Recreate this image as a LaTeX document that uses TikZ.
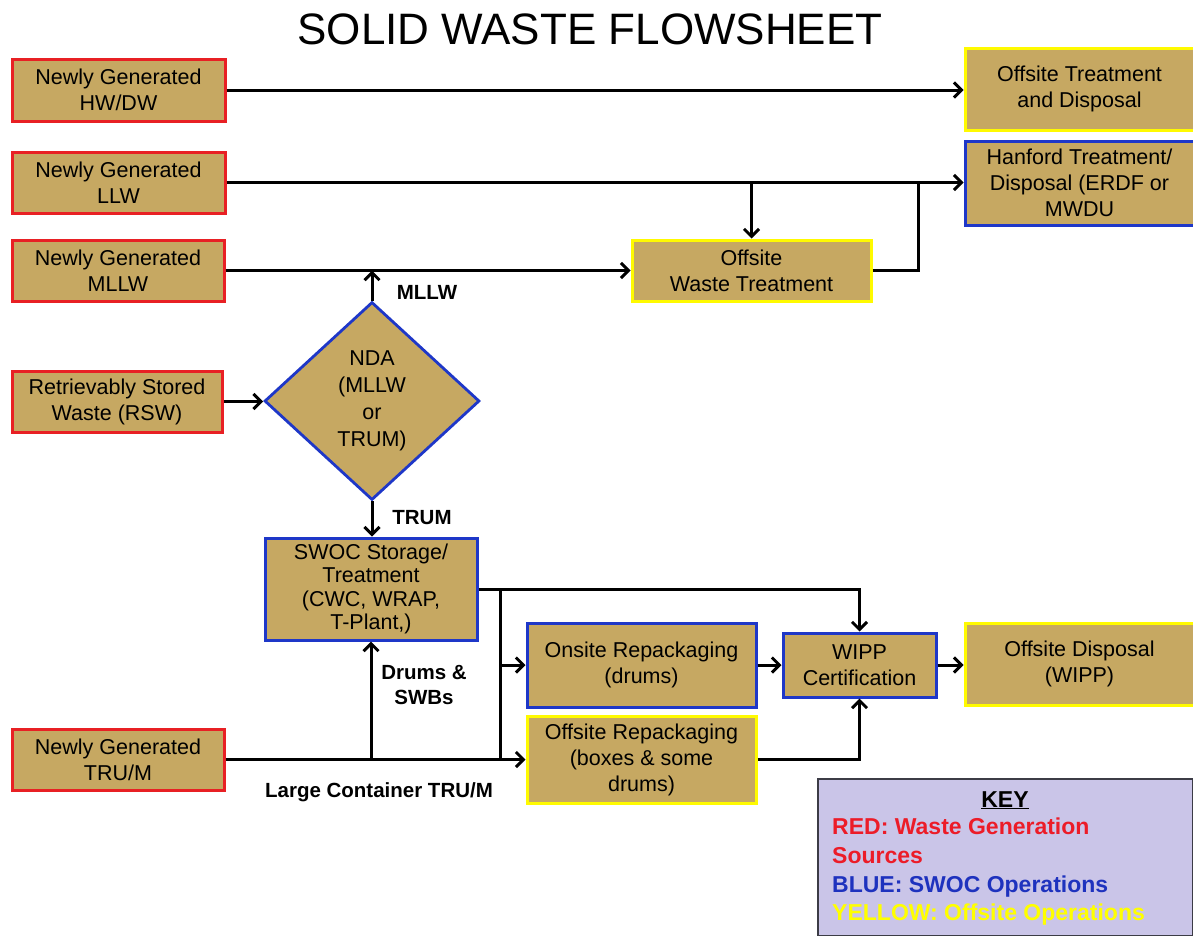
\documentclass[tikz,border=0pt]{standalone}
\usepackage{fontspec}
\setmainfont{Liberation Sans}
\usetikzlibrary{arrows.meta,shapes.geometric}
\definecolor{boxfill}{RGB}{198,168,98}
\definecolor{srcred}{RGB}{232,32,36}
\definecolor{opblue}{RGB}{30,55,200}
\definecolor{offyellow}{RGB}{255,250,0}
\definecolor{keyfill}{RGB}{202,197,232}
\definecolor{keyborder}{RGB}{60,60,70}
\definecolor{keyred}{RGB}{236,28,40}
\definecolor{keyblue}{RGB}{30,50,190}
\definecolor{keyyellow}{RGB}{255,255,0}
\tikzset{
  box/.style={rectangle, fill=boxfill, line width=3pt, inner sep=0pt, align=center,
    font=\fontsize{21.5}{26}\selectfont},
  srcbox/.style={box, draw=srcred},
  opbox/.style={box, draw=opblue},
  offbox/.style={box, draw=offyellow},
  flow/.style={line width=3pt, -{Straight Barb[length=7.5pt,width=15pt]}},
  plainline/.style={line width=3pt},
  lbl/.style={font=\fontsize{20.5}{25}\selectfont\bfseries, align=center, inner sep=0pt},
  keytext/.style={font=\fontsize{23}{28}\selectfont\bfseries, inner sep=0pt, anchor=base west},
}
\begin{document}
\begin{tikzpicture}[x=1pt,y=-1pt]
\useasboundingbox (0,0) rectangle (1193,935);
\fill[white] (0,0) rectangle (1193,935);

\node[font=\fontsize{44}{50}\selectfont, inner sep=0pt] (title) at (590,29) {SOLID WASTE FLOWSHEET};

% sources
\node[srcbox, minimum width=213pt, minimum height=62pt] (hw) at (118.5,90) {Newly Generated\\HW/DW};
\node[srcbox, minimum width=213pt, minimum height=61pt] (llw) at (118.5,182.5) {Newly Generated\\LLW};
\node[srcbox, minimum width=212pt, minimum height=61pt] (mllw) at (118,270.5) {Newly Generated\\MLLW};
\node[srcbox, minimum width=210pt, minimum height=61pt] (rsw) at (117,401.5) {Retrievably Stored\\Waste (RSW)};
\node[srcbox, minimum width=212pt, minimum height=61pt] (tru) at (118,759.5) {Newly Generated\\TRU/M};

% destinations / operations
\node[offbox, minimum width=229pt, minimum height=82pt] (otd) at (1079.5,89) {Offsite Treatment\\and Disposal};
\node[opbox, minimum width=229pt, minimum height=84pt] (hanford) at (1079.5,183) {Hanford Treatment/\\Disposal (ERDF or\\MWDU};
\node[offbox, minimum width=239pt, minimum height=61pt] (owt) at (751.5,270.5) {Offsite\\Waste Treatment};
\node[diamond, draw=opblue, fill=boxfill, line width=2.8pt, minimum width=215pt, minimum height=198pt,
  aspect=1.086, inner sep=0pt, align=center, font=\fontsize{21.5}{27}\selectfont] (nda) at (372,401) {NDA\\(MLLW\\or\\TRUM)};
\node[opbox, minimum width=212pt, minimum height=102pt, font=\fontsize{21.5}{23.5}\selectfont] (swoc) at (371,589) {SWOC Storage/\\Treatment\\(CWC, WRAP,\\T-Plant,)};
\node[opbox, minimum width=229pt, minimum height=84pt] (onsite) at (641.5,665) {Onsite Repackaging\\(drums)};
\node[offbox, minimum width=229pt, minimum height=87pt] (offrep) at (641.5,759.5) {Offsite Repackaging\\(boxes \& some\\drums)};
\node[opbox, minimum width=153pt, minimum height=64pt] (wipp) at (859.5,665) {WIPP\\Certification};
\node[offbox, minimum width=229pt, minimum height=82pt] (odisp) at (1079.5,664) {Offsite Disposal\\(WIPP)};

% connectors
\draw[flow] (hw.east) -- (hw.east -| otd.west);
\draw[flow] (llw.east) -- (llw.east -| hanford.west);
\coordinate (j1) at (owt.north |- llw.east);
\draw[flow] (j1) -- (owt.north);
\draw[flow] (mllw.east) -- (mllw.east -| owt.west);
\coordinate (j2) at (918,182.5);
\draw[plainline] (owt.east) -| (j2);
\coordinate (j3) at (nda.north |- mllw.east);
\draw[flow] (nda.north) -- (j3);
\draw[flow] (rsw.east) -- (rsw.east -| nda.west);
\draw[flow] (nda.south) -- (nda.south |- swoc.north);
\draw[flow] (swoc.east) -| (wipp.north);
\coordinate (j5) at (500,589);
\coordinate (j6) at (500,759.5);
\draw[plainline] (j5) -- (j6);
\draw[flow] (j5 |- onsite.west) -- (onsite.west);
\draw[flow] (tru.east) -- (tru.east -| offrep.west);
\coordinate (j7) at (tru.east -| swoc.south);
\draw[flow] (j7) -- (swoc.south);
\draw[flow] (onsite.east) -- (wipp.west);
\draw[flow] (offrep.east) -| (wipp.south);
\draw[flow] (wipp.east) -- (wipp.east -| odisp.west);

% labels
\node[lbl] (lmllw) at (427,292) {MLLW};
\node[lbl] (ltrum) at (422,518) {TRUM};
\node[lbl] (ldrums) at (424,685) {Drums \&\\SWBs};
\node[lbl] (llarge) at (379,792) {Large Container TRU/M};

% key
\node[draw=keyborder, fill=keyfill, line width=2pt, minimum width=375pt, minimum height=157pt, inner sep=0pt] (key) at (1005.5,857) {};
\node[font=\fontsize{23}{28}\selectfont\bfseries, inner sep=0pt, anchor=base] (keyt) at (1005,807) {\underline{KEY}};
\node[keytext, text=keyred] (k1) at (832,834) {RED: Waste Generation};
\node[keytext, text=keyred] (k2) at (832,863) {Sources};
\node[keytext, text=keyblue] (k3) at (832,892) {BLUE: SWOC Operations};
\node[keytext, text=keyyellow] (k4) at (832,920) {YELLOW: Offsite Operations};
\end{tikzpicture}
\end{document}
